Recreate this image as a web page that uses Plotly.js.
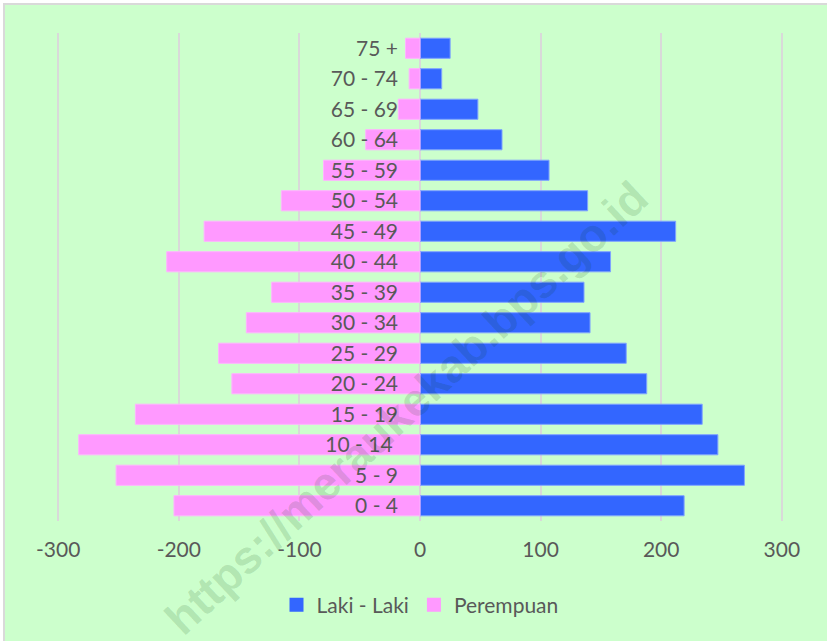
<!DOCTYPE html>
<html>
<head>
<meta charset="utf-8">
<script src="https://cdn.plot.ly/plotly-3.0.1.min.js"></script>
<style>html,body{margin:0;padding:0;background:#fff;}#chart{width:827px;height:641px;}</style>
</head>
<body>
<div id="chart"></div>
<script>
const ageGroups = ["0 - 4","5 - 9","10 - 14 ","15 - 19","20 - 24","25 - 29","30 - 34","35 - 39","40 - 44","45 - 49","50 - 54","55 - 59","60 - 64","65 - 69","70 - 74","75 +"];
const lakiLaki = [219, 269, 247, 234, 188, 171, 141, 136, 158, 212, 139, 107, 68, 48, 18, 25];
const perempuan = [-204, -252, -283, -236, -156, -167, -144, -123, -210, -179, -115, -80, -45, -18, -9, -12];
const xTicks = [-300, -200, -100, 0, 100, 200, 300];
const seriesNames = ["Laki - Laki", "Perempuan"];
const seriesColors = ["#3366ff", "#ff99ff"];
const watermark = "https://meraukekab.bps.go.id";

const W = 827, H = 641, L = 57, R = 44, T = 33, B = 120;
const pw = W - L - R, ph = H - T - B;
const px = x => (x - L) / pw;
const py = y => (H - B - y) / ph;

const font = "Lato, 'Open Sans', sans-serif";
const traces = [
  {type: 'bar', orientation: 'h', name: seriesNames[0], y: ageGroups, x: lakiLaki, showlegend: false,
   marker: {color: seriesColors[0], line: {color: '#7fa3ff', width: 1}}},
  {type: 'bar', orientation: 'h', name: seriesNames[1], y: ageGroups, x: perempuan, showlegend: false,
   marker: {color: seriesColors[1], line: {color: '#ffb3ff', width: 1}}},
  {type: 'scatter', mode: 'markers', name: seriesNames[0], x: [null], y: [null],
   marker: {symbol: 'square', size: 14, color: seriesColors[0]}},
  {type: 'scatter', mode: 'markers', name: seriesNames[1], x: [null], y: [null],
   marker: {symbol: 'square', size: 14, color: seriesColors[1]}}
];

const layout = {
  width: W, height: H,
  margin: {l: L, r: R, t: T, b: B, pad: 0},
  paper_bgcolor: '#ffffff',
  plot_bgcolor: 'rgba(0,0,0,0)',
  barmode: 'overlay',
  bargap: 0.34,
  font: {family: font, color: '#595959', size: 21},
  xaxis: {
    range: [-301, 301], tickvals: xTicks, ticktext: xTicks.map(String),
    showgrid: true, gridcolor: '#d9d9d9', gridwidth: 2,
    zeroline: true, zerolinecolor: '#d9d9d9', zerolinewidth: 2,
    showline: false, ticks: '', ticklabelstandoff: 14,
    tickfont: {family: font, size: 21, color: '#595959'}, fixedrange: true
  },
  yaxis: {
    type: 'category', categoryorder: 'array', categoryarray: ageGroups,
    anchor: 'free', position: 0.5, showgrid: false, zeroline: false, showline: false,
    ticks: '', ticklabelstandoff: 22,
    tickfont: {family: font, size: 21, color: '#595959'}, fixedrange: true
  },
  showlegend: true,
  legend: {orientation: 'h', x: 0.5, xanchor: 'center', y: py(605), yanchor: 'middle',
           font: {family: font, size: 21, color: '#595959'}, bgcolor: 'rgba(0,0,0,0)',
           itemwidth: 30, traceorder: 'normal'},
  shapes: [
    {type: 'rect', xref: 'paper', yref: 'paper', layer: 'below',
     x0: px(4), x1: px(840), y0: py(4), y1: py(660),
     fillcolor: '#ccffcc', line: {color: '#d9d9d9', width: 2}}
  ],
  annotations: [
    {xref: 'paper', yref: 'paper', x: px(406), y: py(408), text: '<b>' + watermark + '</b>',
     showarrow: false, textangle: -43, xanchor: 'center', yanchor: 'middle',
     font: {family: "'Liberation Sans', Arial, sans-serif", size: 46, color: 'rgba(0,60,0,0.14)'}}
  ]
};

Plotly.newPlot('chart', traces, layout, {displayModeBar: false, staticPlot: true});
</script>
</body>
</html>
